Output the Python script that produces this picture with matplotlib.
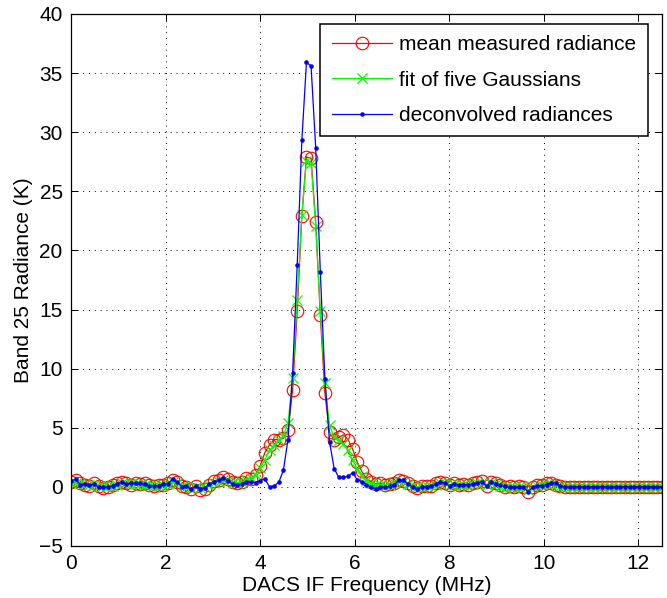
import matplotlib
matplotlib.use("Agg")
import matplotlib.pyplot as plt
import numpy as np

plt.rcParams["font.family"] = ["Liberation Sans", "DejaVu Sans"]

# 129 DACS channels spread over 0 .. 12.5 MHz
n_channels = 129
bandwidth = 12.5

mean_measured = [
    0.4, 0.55, 0.3, 0.2, 0.1, 0.3, 0.05, -0.1, 0.0, 0.15,
    0.3, 0.45, 0.3, 0.2, 0.35, 0.25, 0.3, 0.15, 0.1, 0.2,
    0.15, 0.35, 0.55, 0.45, 0.1, 0.0, -0.15, 0.1, -0.3, -0.2,
    0.2, 0.5, 0.6, 0.8, 0.7, 0.4, 0.3, 0.45, 0.74, 0.68,
    1.0, 1.8, 2.9, 3.55, 4.0, 4.0, 4.1, 4.8, 8.2, 14.9,
    22.9, 27.9, 27.8, 22.4, 14.5, 7.9, 4.6, 4.0, 4.2, 4.4,
    4.0, 3.2, 2.1, 1.3, 0.7, 0.45, 0.25, 0.3, 0.2, 0.25,
    0.35, 0.6, 0.5, 0.3, 0.1, -0.1, 0.05, 0.1, 0.1, 0.3,
    0.45, 0.35, 0.15, 0.3, 0.15, 0.25, 0.2, 0.3, 0.4, 0.5,
    0.1, 0.45, 0.3, 0.15, 0.0, 0.05, -0.05, 0.1, 0.0, -0.45,
    0.0, 0.15, 0.2, 0.35, 0.3, 0.2, 0.05, 0.0, 0.0, 0.0,
    0.0, 0.0, 0.0, 0.0, 0.0, 0.0, 0.0, 0.0, 0.0, 0.0,
    0.0, 0.0, 0.0, 0.0, 0.0, 0.0, 0.0, 0.0, 0.0,
]

gauss_fit = [
    0.3, 0.35, 0.3, 0.25, 0.2, 0.2, 0.1, 0.05, 0.05, 0.1,
    0.2, 0.3, 0.3, 0.25, 0.25, 0.25, 0.2, 0.15, 0.1, 0.1,
    0.15, 0.25, 0.4, 0.3, 0.1, 0.0, -0.1, -0.05, -0.1, -0.05,
    0.15, 0.35, 0.45, 0.55, 0.5, 0.35, 0.3, 0.4, 0.6, 0.75,
    1.0, 1.6, 2.3, 3.1, 3.5, 4.0, 4.3, 5.4, 9.2, 15.8,
    23.0, 27.6, 27.4, 22.1, 14.9, 8.8, 5.2, 4.2, 4.0, 3.6,
    3.1, 2.3, 1.5, 0.9, 0.5, 0.3, 0.2, 0.2, 0.15, 0.2,
    0.3, 0.45, 0.4, 0.25, 0.1, 0.0, 0.0, 0.05, 0.1, 0.2,
    0.3, 0.3, 0.15, 0.2, 0.15, 0.2, 0.2, 0.25, 0.3, 0.35,
    0.15, 0.3, 0.25, 0.1, 0.0, 0.0, 0.0, 0.0, -0.05, -0.25,
    0.0, 0.1, 0.15, 0.25, 0.25, 0.2, 0.05, 0.0, 0.0, 0.0,
    0.0, 0.0, 0.0, 0.0, 0.0, 0.0, 0.0, 0.0, 0.0, 0.0,
    0.0, 0.0, 0.0, 0.0, 0.0, 0.0, 0.0, 0.0, 0.0,
]

deconvolved = [
    0.5, 0.65, 0.17, 0.25, 0.17, 0.22, -0.03, -0.03, -0.03, 0.08,
    0.25, 0.4, 0.25, 0.3, 0.3, 0.3, 0.22, 0.11, 0.08, 0.08,
    0.22, 0.25, 0.65, 0.4, 0.03, 0.08, -0.2, 0.05, -0.14, -0.08,
    0.25, 0.42, 0.54, 0.73, 0.5, 0.25, 0.2, 0.25, 0.42, 0.4,
    0.36, 0.53, 0.68, 0.0, 0.08, 0.38, 1.4, 4.0, 9.6, 18.8,
    29.3, 35.9, 35.6, 28.7, 18.2, 9.1, 3.8, 1.55, 0.8, 0.8,
    0.9, 1.2, 0.6, 0.45, 0.2, -0.05, -0.15, -0.05, 0.0, 0.05,
    0.2, 0.55, 0.55, 0.22, 0.0, -0.15, -0.03, 0.0, 0.05, 0.22,
    0.4, 0.3, 0.08, 0.25, 0.15, 0.2, 0.15, 0.22, 0.3, 0.45,
    0.05, 0.4, 0.28, 0.12, 0.05, -0.05, 0.0, -0.05, -0.05, -0.4,
    -0.05, 0.09, 0.09, 0.2, 0.32, 0.32, 0.09, 0.0, 0.0, 0.0,
    0.0, 0.0, 0.0, 0.0, 0.0, 0.0, 0.0, 0.0, 0.0, 0.0,
    0.0, 0.0, 0.0, 0.0, 0.0, 0.0, 0.0, 0.0, 0.0,
]

legend_labels = ["mean measured radiance", "fit of five Gaussians", "deconvolved radiances"]

freq = np.linspace(0, bandwidth, n_channels)

fig = plt.figure(figsize=(6.67, 5.98), dpi=100)
ax = fig.add_axes([0.1064, 0.0870, 0.8861, 0.8896])

ax.plot(freq, mean_measured, color="#ff0000", lw=0.9, marker="o", ms=9,
        mfc="none", mec="#ff0000", mew=0.8, label=legend_labels[0])
ax.plot(freq, gauss_fit, color="#00ff00", lw=0.9, marker="x", ms=6.5,
        mec="#00ff00", mew=0.9, label=legend_labels[1])
ax.plot(freq, deconvolved, color="#0000ff", lw=0.9, marker="o", ms=3.3,
        mfc="#0000ff", mec="#0000ff", mew=0, label=legend_labels[2])

ax.set_xlim(0, 12.5)
ax.set_ylim(-5, 40)
ax.set_xticks(np.arange(0, 13, 2))
ax.set_yticks(np.arange(-5, 41, 5))
ax.tick_params(direction="in", length=5, width=0.7, labelsize=15,
               top=True, right=True, pad=6)
for sp in ax.spines.values():
    sp.set_linewidth(0.9)
ax.grid(True, color="black", linestyle=(0, (1, 5)), linewidth=0.7)

ax.set_xlabel("DACS IF Frequency (MHz)", fontsize=15, labelpad=2)
ax.set_ylabel("Band 25 Radiance (K)", fontsize=15, labelpad=4)

leg = ax.legend(loc="upper right", bbox_to_anchor=(0.9763, 0.9812),
                borderaxespad=0, fontsize=15, handlelength=2.9,
                handletextpad=0.35, labelspacing=0.78, borderpad=0.55,
                fancybox=False, framealpha=1, edgecolor="black")
leg.get_frame().set_linewidth(1.1)

fig.savefig("out.png", dpi=100)
